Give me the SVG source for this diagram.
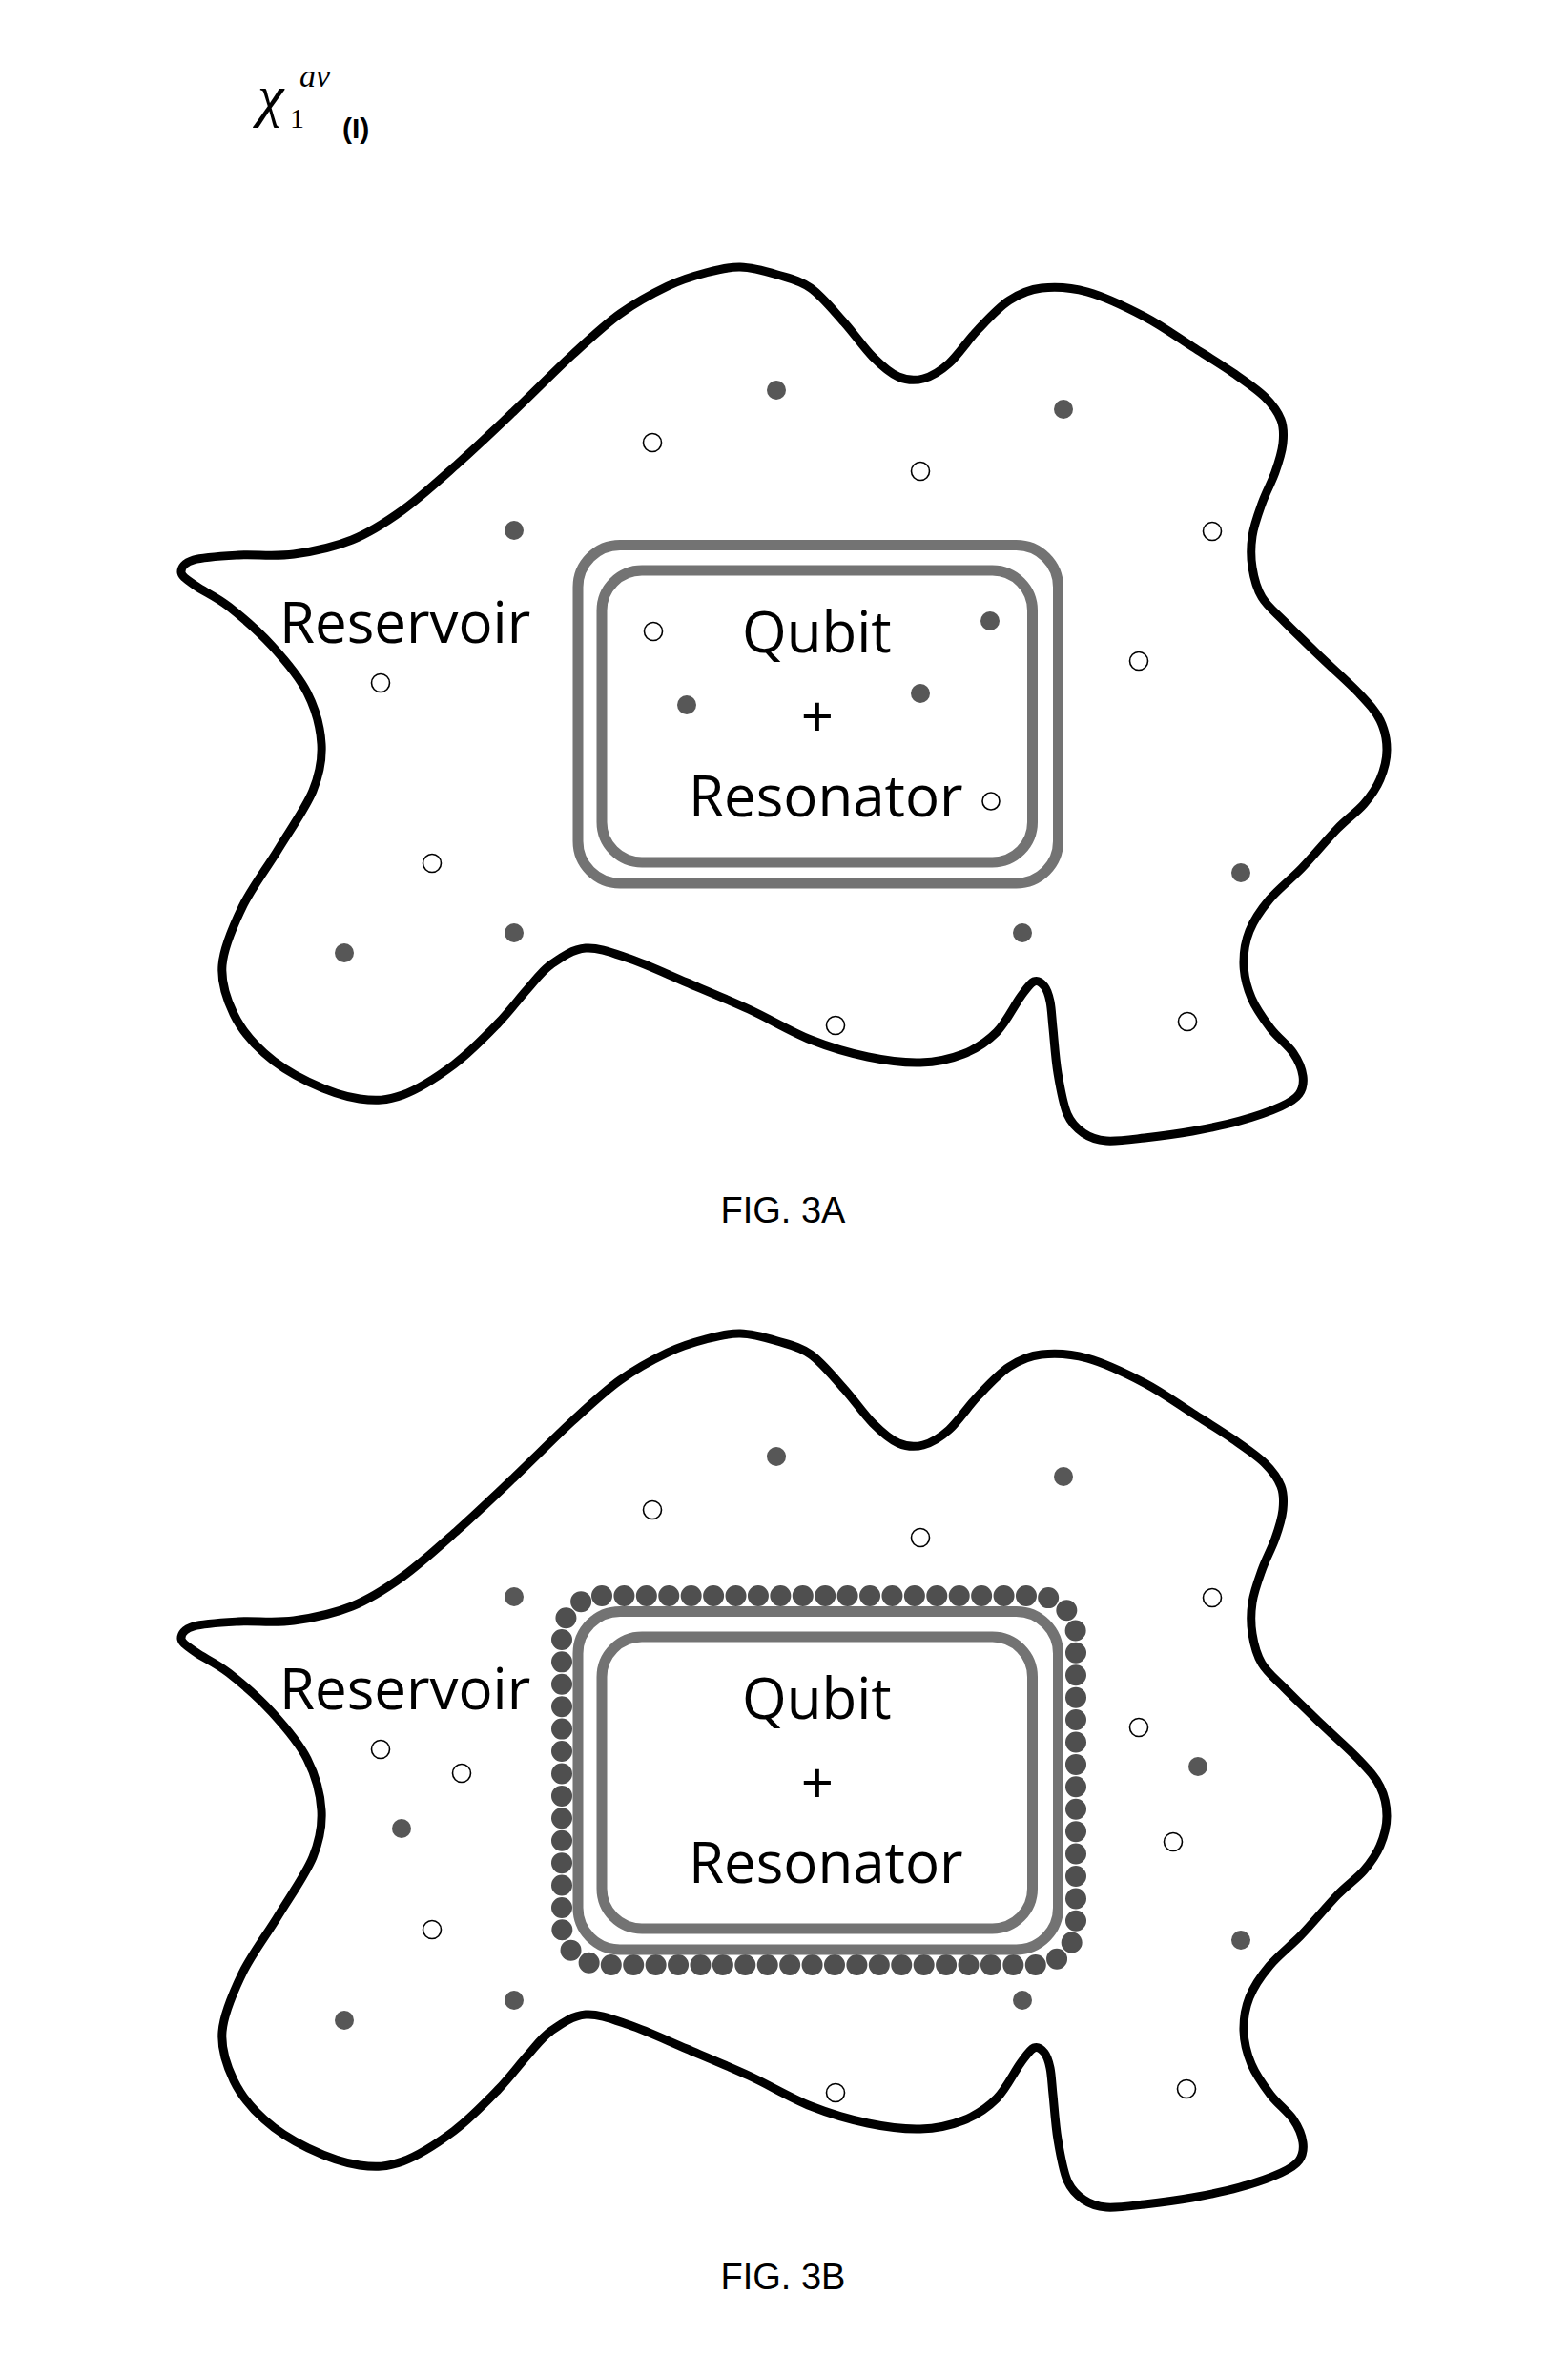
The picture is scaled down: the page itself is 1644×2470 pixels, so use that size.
<svg xmlns="http://www.w3.org/2000/svg" xmlns:xlink="http://www.w3.org/1999/xlink" width="1644" height="2470" viewBox="0 0 1644 2470">
<style>
.blob{fill:none;stroke:#000;stroke-width:9;stroke-linejoin:round}
.label{font-family:"Open Sans","DejaVu Sans",sans-serif;font-size:60px;fill:#000}
.fig{font-family:"Liberation Sans",Arial,sans-serif;font-size:38px;fill:#000;text-anchor:middle}
.pf{fill:#575757}
.po{fill:#fff;stroke:#000;stroke-width:1.6}
.box{fill:none;stroke:#737373;stroke-width:11}
.ring{fill:none;stroke:#4f4f4f;stroke-width:22;stroke-linecap:round;stroke-dasharray:0 23.42}
.serif{font-family:"Liberation Serif","Times New Roman",serif;fill:#000}
</style>
<defs>
<path id="blob-outline" d="M190,600 C189.7,595.5 193,590 203,587 S232.5,583 250,582 S288.2,583.7 308,581 S350,573.7 369,566 S403.5,548.3 422,535 S460.3,503.5 480,486 S520,449 540,430 S581.7,388.8 600,372 S633.3,341 650,329 S685,307.2 700,300 S727.3,289.3 740,286 S763.5,279.7 776,280 S802.7,284.3 815,288 S838.3,293.7 850,302 S874.2,326 885,338 S905.5,364.5 915,374 S933.2,391.2 942,395 S959.2,399.3 968,397 S985.5,389.5 995,381 S1014.5,357 1025,346 S1046.8,322.3 1058,315 S1078.3,303.5 1092,302 S1122,301 1140,306 S1181.5,322.3 1200,332 S1235.5,354.2 1251,364 S1280.5,382.3 1293,391 S1317.7,407.8 1326,416 S1339.8,431.8 1343,440 S1346,455.8 1345,465 S1340.7,484.5 1337,495 S1327,516.8 1323,528 S1314.7,550.8 1313,562 S1311.3,584.3 1313,595 S1317.3,616.5 1323,626 S1336.5,641.3 1347,652 S1373,677.5 1386,690 S1414.8,716.2 1425,727 S1442.2,745.2 1447,755 S1454,775.7 1454,786 S1451,807.5 1447,817 S1437.5,834.3 1430,843 S1412.8,857.8 1402,869 S1376.8,897.7 1365,910 S1340.2,932 1331,943 S1314.5,964.7 1310,976 S1303.7,999.3 1304,1011 S1307.3,1034.8 1312,1046 S1324.7,1068.3 1332,1078 S1350.3,1095.7 1356,1104 S1365,1120.8 1366,1128 S1365.8,1141.7 1362,1147 S1353.3,1155.3 1343,1160 S1315.5,1170.7 1300,1175 S1266.7,1183 1250,1186 S1215,1191.3 1200,1193 S1170.7,1196.8 1160,1196 S1142.8,1192.7 1136,1188 S1123.5,1178.5 1119,1168 S1111.5,1140 1109,1125 S1105.3,1090.5 1104,1078 S1102.5,1057.3 1101,1050 S1097.8,1037.5 1095,1034 S1088.2,1027.2 1084,1029 S1076.5,1036.2 1070,1045 S1055,1072 1045,1082 S1023.3,1099.7 1010,1105 S981.7,1113.5 965,1114 S929.2,1112 910,1108 S870.8,1098.3 850,1090 S806.7,1068 785,1058 S740.8,1038.8 720,1030 S677.7,1011 660,1005 S627.7,993 614,994 S588.2,1003.8 578,1011 S562.3,1026.7 553,1037 S534.8,1059.8 522,1073 S492.7,1103.5 476,1116 S438.5,1142 422,1148 S393.5,1154.3 377,1152 S339.7,1142 323,1134 S290,1115.8 277,1104 S252.3,1078.3 245,1063 S231.5,1030.7 233,1012 S244.2,971.3 254,951 S279.7,910.3 292,890 S320.5,847.3 328,829 S338,797.2 337,780 S330.7,743.2 322,726 S298.7,692 285,677 S253.3,646.5 240,636 S213.3,620 205,614 S190.3,604.5 190,600 Z"/>
</defs>
<rect x="0" y="0" width="1644" height="2470" fill="#fff"/>

<g id="formula">
<text class="serif" x="270" y="121" font-size="62" font-style="italic">χ</text>
<text class="serif" x="304" y="134" font-size="30">1</text>
<text class="serif" x="314" y="91" font-size="34" font-style="italic">av</text>
<text x="359" y="145" font-family="Liberation Sans, Arial, sans-serif" font-size="30" font-weight="bold">(I)</text>
</g>

<g id="fig-3a">
<g id="reservoir-3a">
<use xlink:href="#blob-outline" class="blob"/>
<text class="label" x="293" y="674">Reservoir</text>
</g>
<g id="qubit-resonator-3a">
<rect class="box" x="606" y="571.5" width="503.5" height="354.5" rx="44"/>
<rect class="box" x="631" y="598" width="451.5" height="306" rx="42"/>
<text class="label" x="778" y="684">Qubit</text>
<text class="label" x="857" y="773" text-anchor="middle">+</text>
<text class="label" x="722" y="856">Resonator</text>
</g>
<g id="particles-3a">
<circle class="pf" cx="814" cy="409" r="10"/>
<circle class="pf" cx="1115" cy="429" r="10"/>
<circle class="pf" cx="539" cy="556" r="10"/>
<circle class="pf" cx="1038" cy="651" r="10"/>
<circle class="pf" cx="720" cy="739" r="10"/>
<circle class="pf" cx="965" cy="727" r="10"/>
<circle class="pf" cx="1301" cy="915" r="10"/>
<circle class="pf" cx="361" cy="999" r="10"/>
<circle class="pf" cx="539" cy="978" r="10"/>
<circle class="pf" cx="1072" cy="978" r="10"/>
<circle class="po" cx="684" cy="464" r="9.5"/>
<circle class="po" cx="965" cy="494" r="9.5"/>
<circle class="po" cx="1271" cy="557" r="9.5"/>
<circle class="po" cx="685" cy="662" r="9.5"/>
<circle class="po" cx="399" cy="716" r="9.5"/>
<circle class="po" cx="1194" cy="693" r="9.5"/>
<circle class="po" cx="1039" cy="840" r="9"/>
<circle class="po" cx="453" cy="905" r="9.5"/>
<circle class="po" cx="876" cy="1075" r="9.5"/>
<circle class="po" cx="1245" cy="1071" r="9.5"/>
</g>
<text id="caption-3a" class="fig" x="821" y="1282">FIG. 3A</text>
</g>

<g id="fig-3b" transform="translate(0,1118)">
<g id="reservoir-3b">
<use xlink:href="#blob-outline" class="blob"/>
<text class="label" x="293" y="674">Reservoir</text>
</g>
<g id="qubit-resonator-3b">
<rect class="ring" x="589" y="555" width="539" height="387" rx="42"/>
<rect class="box" x="606" y="571.5" width="503.5" height="354.5" rx="44"/>
<rect class="box" x="631" y="598" width="451.5" height="306" rx="42"/>
<text class="label" x="778" y="684">Qubit</text>
<text class="label" x="857" y="773" text-anchor="middle">+</text>
<text class="label" x="722" y="856">Resonator</text>
</g>
<g id="particles-3b">
<circle class="pf" cx="814" cy="409" r="10"/>
<circle class="pf" cx="1115" cy="430" r="10"/>
<circle class="pf" cx="539" cy="556" r="10"/>
<circle class="pf" cx="421" cy="799" r="10"/>
<circle class="pf" cx="1256" cy="734" r="10"/>
<circle class="pf" cx="1301" cy="916" r="10"/>
<circle class="pf" cx="361" cy="1000" r="10"/>
<circle class="pf" cx="539" cy="979" r="10"/>
<circle class="pf" cx="1072" cy="979" r="10"/>
<circle class="po" cx="684" cy="465" r="9.5"/>
<circle class="po" cx="965" cy="494" r="9.5"/>
<circle class="po" cx="1271" cy="557" r="9.5"/>
<circle class="po" cx="399" cy="716" r="9.5"/>
<circle class="po" cx="484" cy="741" r="9.5"/>
<circle class="po" cx="1194" cy="693" r="9.5"/>
<circle class="po" cx="1230" cy="813" r="9.5"/>
<circle class="po" cx="453" cy="905" r="9.5"/>
<circle class="po" cx="876" cy="1076" r="9.5"/>
<circle class="po" cx="1244" cy="1072" r="9.5"/>
</g>
<text id="caption-3b" class="fig" x="821" y="1282">FIG. 3B</text>
</g>

<g id="connectors"/>
</svg>
